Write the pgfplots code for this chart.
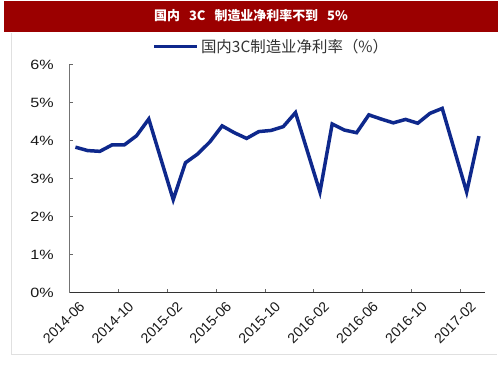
\documentclass[border=0pt]{standalone}
\usepackage{pgfplots}
\pgfplotsset{compat=1.18}
\usepackage{fontspec}
\setmainfont{Liberation Sans}
\newfontfamily\cjk{Noto Sans CJK SC}
\definecolor{titlered}{RGB}{155,0,0}
\definecolor{lineblue}{RGB}{14,40,140}
\newcommand{\yl}[1]{\scalebox{1.2}[1]{#1\%}}
\begin{document}
\begin{tikzpicture}[x=1bp,y=1bp]
\fill[white] (0,0) rectangle (503,378);
\fill[titlered] (4,346.3) rectangle (497.5,376.5);
\node[text=white,font=\cjk\bfseries\fontsize{13}{15}\selectfont] at (251,362) {国内\hspace{9bp}3C\hspace{9bp}制造业净利率不到\hspace{9bp}5\%};
\draw[black!12,line width=0.8bp] (11.5,345) -- (11.5,24) -- (497,24);
\begin{axis}[
  at={(69.3bp,85.3bp)}, anchor=south west,
  scale only axis, width=415.7bp, height=228bp,
  xmin=0, xmax=34, ymin=0, ymax=6,
  axis x line*=bottom, axis y line*=left,
  x axis line style={black!80, line width=1.2bp},
  y axis line style={black!55, line width=1bp},
  xtick={0,4,...,32},
  xticklabels={2014-06,2014-10,2015-02,2015-06,2015-10,2016-02,2016-06,2016-10,2017-02},
  ytick={0,1,...,6},
  yticklabels={\yl{0},\yl{1},\yl{2},\yl{3},\yl{4},\yl{5},\yl{6}},
  tick align=inside, major tick length=4bp,
  xtick style={black!60, line width=0.8bp},
  ytick style={black!60, line width=0.8bp},
  tick label style={font=\fontsize{13.5}{15}\selectfont, text=black!90},
  x tick label style={font=\fontsize{14.2}{16}\selectfont, rotate=45, anchor=north east, inner sep=1bp, yshift=-11bp, xshift=2bp},
  yticklabel style={xshift=-12bp},
  legend style={at={(0.486,1.079)}, anchor=center, draw=none, fill=none,
    font=\cjk\fontsize{15.5}{17}\selectfont, text=black!80},
  legend image code/.code={\draw[#1, line width=3.5bp] (0bp,0bp) -- (43bp,0bp);},
]
\addplot[lineblue, line width=3.5bp, line join=miter, miter limit=10] coordinates {
(0.5,3.83) (1.5,3.74) (2.5,3.72) (3.5,3.89) (4.5,3.89) (5.5,4.13) (6.5,4.57)
(8.5,2.45) (9.5,3.42) (10.5,3.65) (11.5,3.97) (12.5,4.39) (13.5,4.21) (14.5,4.06)
(15.5,4.24) (16.5,4.27) (17.5,4.37) (18.5,4.74)
(20.5,2.65) (21.5,4.44) (22.5,4.28) (23.5,4.21) (24.5,4.68) (25.5,4.57) (26.5,4.47)
(27.5,4.56) (28.5,4.46) (29.5,4.72) (30.5,4.85)
(32.5,2.65) (33.5,4.12)
};
\addlegendentry{国内3C制造业净利率（\%）}
\end{axis}
\end{tikzpicture}
\end{document}
